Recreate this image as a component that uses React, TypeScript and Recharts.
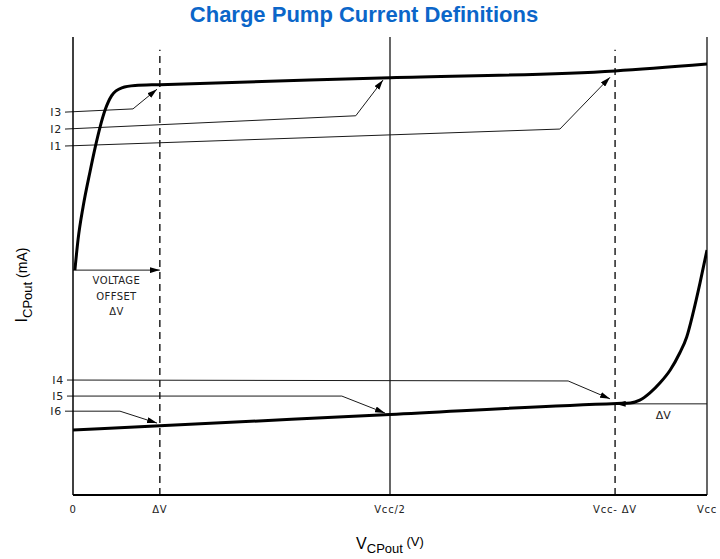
import React from 'react';
import { ComposedChart, Line, XAxis, YAxis, ReferenceLine, ReferenceDot } from 'recharts';

// x axis: 0 .. Vcc mapped to 0..100, y axis: relative current 0..100
const tickValues = [0, 13.7, 50, 85.5, 100];
const tickLabels = ['0', '\u0394V', 'Vcc/2', 'Vcc- \u0394V', 'Vcc'];

// source current curve (top)
const topX = [0.3, 0.8, 1.6, 2.7, 3.5, 4.3, 5.1, 6.1, 7.7, 9.8, 13.7, 50, 85.5, 100];
const topY = [49.1, 55.8, 63.0, 70.7, 75.9, 80.5, 84.2, 87.2, 88.9, 89.4, 89.6, 91.1, 92.6, 94.1];

// sink current curve (bottom)
const bottomX = [0, 13.7, 50, 85.8, 87.9, 89.4, 91.0, 92.6, 94.2, 95.7, 96.8, 97.8, 98.9, 100];
const bottomY = [14.2, 15.1, 17.6, 20.0, 20.1, 20.7, 22.3, 24.5, 27.3, 31.0, 34.5, 39.7, 46.3, 53.5];

// leader lines, label -> points (last point gets the arrow)
const leaderNames = ['I3', 'I2', 'I1', 'I4', 'I5', 'I6'];
const i3Path = [[-1.26, 83.6], [9.46, 84.3], [13.25, 88.6]];
const i2Path = [[-1.26, 79.9], [44.6, 82.8], [48.9, 90.6]];
const i1Path = [[-1.26, 76.2], [76.8, 79.9], [84.7, 91.2]];
const i4Path = [[-0.95, 25.1], [78.1, 24.9], [84.7, 21.0]];
const i5Path = [[-0.95, 21.6], [42.4, 21.6], [49.2, 17.9]];
const i6Path = [[-1.26, 18.3], [7.41, 18.3], [13.25, 15.7]];
const leaderPaths = [i3Path, i2Path, i1Path, i4Path, i5Path, i6Path];

const offsetArrow = [[0, 49.1], [13.7, 49.1]];
const offsetText = ['VOLTAGE', 'OFFSET', '\u0394V'];
const rightArrow = [[100, 19.9], [85.6, 19.9]];
const rightLabel = { x: 93.1, y: 17.4, text: '\u0394V' };
const dashedTop = 97.2;

const topData = topX.map((x, i) => ({ x, y: topY[i] }));
const bottomData = bottomX.map((x, i) => ({ x, y: bottomY[i] }));

const SANS = '"Liberation Sans", Arial, sans-serif';
const THIN = '"DejaVu Sans", sans-serif';

const Tick = (props: any) => {
  const { x, y, payload } = props;
  const idx = tickValues.indexOf(payload.value);
  return (
    <text x={x} y={y + 10} textAnchor="middle" fontSize={10} letterSpacing={0.8} fontFamily={THIN} fill="#222">
      {tickLabels[idx]}
    </text>
  );
};

const XTitle = (props: any) => {
  const { x, y, width } = props.viewBox;
  return (
    <text x={x + width / 2} y={y + 54} textAnchor="middle" fontFamily={SANS} fill="#000" fontSize={16}>
      V<tspan fontSize={13} dy={4}>CPout</tspan>
      <tspan fontSize={13} dy={-7}> (V)</tspan>
    </text>
  );
};

const YTitle = (props: any) => {
  const { y, height } = props.viewBox;
  const cx = 27;
  const cy = y + height / 2 + 19;
  return (
    <text x={cx} y={cy} transform={`rotate(-90, ${cx}, ${cy})`} textAnchor="middle" fontFamily={SANS} fill="#000" fontSize={16}>
      I<tspan fontSize={13} dy={5}>CPout</tspan>
      <tspan fontSize={14} dy={-5}> (mA)</tspan>
    </text>
  );
};

const OffsetLabel = (props: any) => {
  const { x, y } = props.viewBox;
  return (
    <text x={x} y={y} textAnchor="middle" fontFamily={THIN} fontSize={10} letterSpacing={0.4} fill="#222">
      {offsetText.map((t, i) => (
        <tspan key={t} x={x} dy={i === 0 ? 14 : 15.5}>{t}</tspan>
      ))}
    </text>
  );
};

const segLine = (pts: number[][], key: string, arrow: boolean, width = 1) =>
  pts.slice(0, -1).map((p, i) => (
    <ReferenceLine
      key={`${key}-${i}`}
      segment={[{ x: p[0], y: p[1] }, { x: pts[i + 1][0], y: pts[i + 1][1] }]}
      stroke="#1a1a1a"
      strokeWidth={width}
      ifOverflow="visible"
      markerEnd={arrow && i === pts.length - 2 ? 'url(#arrowHead)' : undefined}
    />
  ));

export default function App() {
  return (
    <div style={{ position: 'relative', width: 720, height: 559, background: '#fff' }}>
      <style>{'body{margin:0}'}</style>
      <div
        style={{
          position: 'absolute', top: 2, left: 4, width: 720, textAlign: 'center',
          fontFamily: SANS, fontWeight: 'bold', fontSize: 22, color: '#0b66c9',
        }}
      >
        Charge Pump Current Definitions
      </div>
      <ComposedChart width={720} height={559} margin={{ top: 37, right: 13, left: 13, bottom: 14 }}>
        <defs>
          <marker id="arrowHead" viewBox="0 0 10 6" refX="10" refY="3" markerWidth="10" markerHeight="6"
            markerUnits="userSpaceOnUse" orient="auto">
            <path d="M0,0 L10,3 L0,6 z" fill="#000" />
          </marker>
        </defs>
        <XAxis
          dataKey="x" type="number" domain={[0, 100]} allowDataOverflow ticks={tickValues}
          tick={<Tick />} tickLine={false} height={50}
          axisLine={{ stroke: '#000', strokeWidth: 2 }}
          label={<XTitle />}
        />
        <YAxis
          type="number" domain={[0, 100]} allowDataOverflow tick={false} tickLine={false} width={60}
          axisLine={{ stroke: '#000', strokeWidth: 1.5 }}
          label={<YTitle />}
        />
        <ReferenceLine segment={[{ x: 13.7, y: 0 }, { x: 13.7, y: dashedTop }]} stroke="#000" strokeWidth={1.3} strokeDasharray="7 5" />
        <ReferenceLine segment={[{ x: 85.5, y: 0 }, { x: 85.5, y: dashedTop }]} stroke="#000" strokeWidth={1.3} strokeDasharray="7 5" />
        <ReferenceLine x={50} stroke="#000" strokeWidth={1.2} />
        <ReferenceLine x={100} stroke="#000" strokeWidth={1.2} />

        {leaderPaths.map((pts, k) => segLine(pts, leaderNames[k], true))}
        {leaderPaths.map((pts, k) => (
          <ReferenceDot
            key={`lbl-${leaderNames[k]}`}
            x={pts[0][0]} y={pts[0][1]} r={0} fill="none" stroke="none" ifOverflow="visible"
            label={{ value: leaderNames[k], position: 'left', offset: 3, fontSize: 11, letterSpacing: 0.8, fontFamily: THIN, fill: '#222' }}
          />
        ))}

        {segLine(offsetArrow, 'offset', true)}
        <ReferenceDot x={6.85} y={offsetArrow[0][1]} r={0} fill="none" stroke="none" label={<OffsetLabel />} />
        {segLine(rightArrow, 'right', true)}
        <ReferenceDot
          x={rightLabel.x} y={rightLabel.y} r={0} fill="none" stroke="none"
          label={{ value: rightLabel.text, position: 'center', fontSize: 11, fontFamily: THIN, fill: '#222' }}
        />

        <Line data={topData} dataKey="y" type="monotone" stroke="#000" strokeWidth={3} dot={false} isAnimationActive={false} />
        <Line data={bottomData} dataKey="y" type="monotone" stroke="#000" strokeWidth={3} dot={false} isAnimationActive={false} />
      </ComposedChart>
    </div>
  );
}
